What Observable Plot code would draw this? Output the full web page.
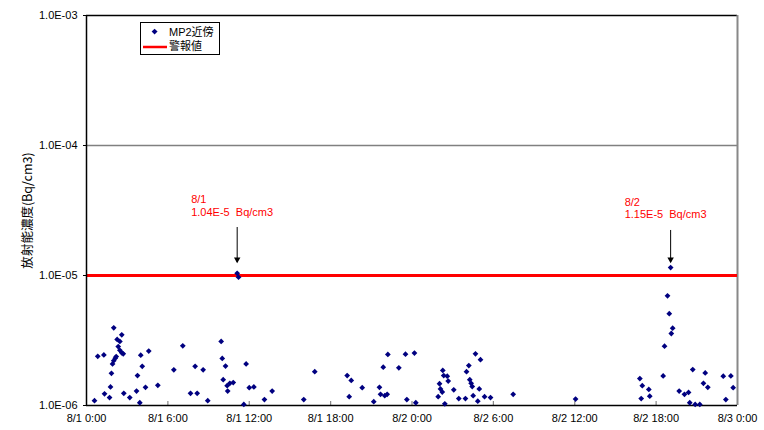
<!DOCTYPE html>
<html>
<head>
<meta charset="utf-8">
<script src="https://cdn.jsdelivr.net/npm/d3@7"></script>
<script src="https://cdn.jsdelivr.net/npm/@observablehq/plot@0.6"></script>
<style>
  html, body { margin: 0; padding: 0; background: #fff; }
  #wrap { position: relative; width: 764px; height: 430px; font-family: "Liberation Sans", "Noto Sans CJK JP", sans-serif; }
  #legend { position: absolute; left: 140px; top: 22px; width: 78px; height: 31px; border: 1px solid #000; background: #fff; font-size: 11px; color: #000; }
  #legend .row { position: absolute; left: 0; height: 14px; line-height: 14px; }
  #legend .t { position: absolute; left: 28px; white-space: nowrap; }
</style>
</head>
<body>
<div id="wrap"></div>
<script>
// Hours since 8/1 0:00 and measured concentration (Bq/cm3) for MP2近傍
const hours = [
  0.59, 0.83, 1.28, 1.33, 1.70, 1.77, 1.84, 1.92, 2.01, 2.01,
  2.12, 2.19, 2.26, 2.34, 2.46, 2.46, 2.60, 2.60, 2.71, 2.75,
  3.19, 3.69, 3.76, 3.93, 4.00, 4.11, 4.35, 4.59, 5.26, 6.44,
  7.10, 7.67, 8.01, 8.16, 8.60, 8.94, 9.93, 10.01, 10.25, 10.08,
  10.37, 10.57, 10.82, 10.41, 11.11, 11.21, 11.60, 11.77, 12.00, 12.34,
  13.12, 13.69, 16.02, 16.83, 19.22, 19.52, 19.37, 20.33, 21.18, 21.60,
  21.68, 21.88, 21.99, 22.17, 22.22, 23.03, 23.52, 23.62, 24.18, 24.28,
  25.93, 26.03, 26.10, 26.23, 26.27, 26.34, 26.60, 26.67, 26.42, 27.08,
  27.45, 27.94, 28.02, 28.19, 28.26, 28.36, 28.44, 28.51, 28.68, 28.85,
  28.96, 29.05, 29.35, 29.79, 31.46, 36.06, 40.80, 40.98, 40.90, 41.46,
  41.53, 42.52, 42.62, 42.84, 42.97, 43.07, 43.12, 43.22, 43.70, 44.09,
  44.39, 44.48, 44.70, 44.88, 45.22, 45.49, 45.62, 45.81, 46.95, 47.14,
  47.51, 47.68
];
const values = [
  1.09e-6, 2.39e-6, 2.45e-6, 1.23e-6, 1.15e-6, 1.39e-6, 1.77e-6, 2.09e-6, 3.96e-6, 2.21e-6,
  2.31e-6, 2.38e-6, 3.22e-6, 2.84e-6, 3.11e-6, 2.66e-6, 3.50e-6, 2.54e-6, 2.50e-6, 1.24e-6,
  1.15e-6, 1.29e-6, 1.70e-6, 1.05e-6, 2.44e-6, 2.00e-6, 1.38e-6, 2.62e-6, 1.43e-6, 1.88e-6,
  2.88e-6, 1.24e-6, 2.00e-6, 1.24e-6, 1.88e-6, 1.09e-6, 3.11e-6, 2.30e-6, 2.01e-6, 1.58e-6,
  1.42e-6, 1.48e-6, 1.50e-6, 1.29e-6, 1.04e-5, 9.70e-6, 1.02e-6, 2.09e-6, 1.37e-6, 1.39e-6,
  1.11e-6, 1.29e-6, 1.11e-6, 1.82e-6, 1.70e-6, 1.56e-6, 1.17e-6, 1.37e-6, 1.07e-6, 1.38e-6,
  1.22e-6, 1.97e-6, 1.19e-6, 1.22e-6, 2.47e-6, 1.95e-6, 2.48e-6, 1.11e-6, 2.53e-6, 1.05e-6,
  1.17e-6, 1.47e-6, 1.34e-6, 1.27e-6, 1.86e-6, 1.70e-6, 1.68e-6, 1.54e-6, 1.03e-6, 1.32e-6,
  1.13e-6, 1.13e-6, 1.82e-6, 2.03e-6, 1.58e-6, 1.48e-6, 1.40e-6, 1.19e-6, 2.50e-6, 1.08e-6,
  1.34e-6, 2.25e-6, 1.17e-6, 1.15e-6, 1.22e-6, 1.12e-6, 1.61e-6, 1.42e-6, 1.13e-6, 1.33e-6,
  1.18e-6, 1.69e-6, 2.86e-6, 6.98e-6, 5.08e-6, 1.15e-5, 3.58e-6, 3.93e-6, 1.29e-6, 1.22e-6,
  1.26e-6, 1.05e-6, 1.89e-6, 1.02e-6, 1.02e-6, 1.48e-6, 1.78e-6, 1.38e-6, 1.68e-6, 1.11e-6,
  1.69e-6, 1.37e-6
];

const alarmLevel = 1e-5;       // 警報値
const gridLevel = 1e-4;

const xTicks = [0, 6, 12, 18, 24, 30, 36, 42, 48];
const xTickLabels = ["8/1 0:00", "8/1 6:00", "8/1 12:00", "8/1 18:00", "8/2 0:00", "8/2 6:00", "8/2 12:00", "8/2 18:00", "8/3 0:00"];
const yTicks = [1e-6, 1e-5, 1e-4, 1e-3];
const yTickLabels = ["1.0E-06", "1.0E-05", "1.0E-04", "1.0E-03"];

const seriesName = "MP2近傍";
const alarmName = "警報値";
const yTitle = "放射能濃度(Bq/cm3)";

const peakHours = [11.11, 43.07];
const peakLabels = ["8/1\n1.04E-5  Bq/cm3", "8/2\n1.15E-5  Bq/cm3"];
const arrowTop = [2.34e-5, 2.22e-5];
const arrowTip = [1.26e-5, 1.26e-5];

const data = hours.map((h, i) => ({h, v: values[i]}));
const ann = peakHours.map((h, i) => ({h, label: peakLabels[i], top: arrowTop[i], tip: arrowTip[i]}));

const chart = Plot.plot({
  width: 764,
  height: 430,
  marginLeft: 86,
  marginRight: 27,
  marginTop: 15,
  marginBottom: 25,
  style: {fontFamily: '"Liberation Sans", "Noto Sans CJK JP", sans-serif', fontSize: "11px", background: "#fff", color: "#000"},
  x: {domain: [0, 48]},
  y: {type: "log", domain: [1e-6, 1e-3]},
  marks: [
    Plot.axisX({ticks: xTicks, tickFormat: d => xTickLabels[xTicks.indexOf(d)], tickSize: 0, tickPadding: 9, label: null}),
    Plot.axisY({ticks: yTicks, tickFormat: d => yTickLabels[yTicks.indexOf(d)], tickSize: 3, tickPadding: 6, label: null}),
    Plot.text([yTitle], {text: d => d, frameAnchor: "left", textAnchor: "middle", rotate: -90, dx: -59, fontSize: 12.5,
      fontFamily: '"Noto Sans CJK JP", sans-serif', fill: "#000"}),
    Plot.ruleX(xTicks.slice(1, -1), {x: d => d, insetTop: 386, stroke: "#888", strokeWidth: 1.2}),
    Plot.ruleY([gridLevel], {y: d => d, stroke: "#808080", strokeWidth: 1.5}),
    Plot.ruleY([1e-3], {y: d => d, stroke: "#000", strokeWidth: 1.5}),
    Plot.ruleX([48], {x: d => d, stroke: "#888", strokeWidth: 2}),
    Plot.ruleY([alarmLevel], {y: d => d, stroke: "#ff0000", strokeWidth: 3}),
    Plot.ruleX([0], {x: d => d, stroke: "#000", strokeWidth: 1.5}),
    Plot.ruleY([1e-6], {y: d => d, stroke: "#000", strokeWidth: 1.5}),
    Plot.dot(data, {x: "h", y: "v", symbol: "square", rotate: 45, r: 2.3, fill: "#000080", stroke: "none"}),
    Plot.ruleX(ann, {x: "h", y1: "top", y2: "tip", stroke: "#000", strokeWidth: 1}),
    Plot.dot(ann, {x: "h", y: "tip", symbol: "triangle", rotate: 180, r: 2.4, fill: "#000", dy: -3}),
    Plot.text(ann, {x: "h", y: "top", text: "label", textAnchor: "start", lineAnchor: "bottom", dx: -46, dy: -12,
      fill: "#ff0000", fontSize: 11, lineHeight: 1.15})
  ]
});

const wrap = document.getElementById("wrap");
wrap.appendChild(chart);

const legend = document.createElement("div");
legend.id = "legend";
legend.innerHTML = `
  <div class="row" style="top:2px;width:78px">
    <svg width="24" height="14" style="position:absolute;left:5px;top:0"><rect x="6.5" y="4.5" width="4.2" height="4.2" fill="#000080" transform="rotate(45 8.6 6.6)"/></svg>
    <span class="t"></span>
  </div>
  <div class="row" style="top:16px;width:78px">
    <svg width="26" height="14" style="position:absolute;left:2px;top:0"><line x1="0" y1="8" x2="24" y2="8" stroke="#ff0000" stroke-width="2.5"/></svg>
    <span class="t"></span>
  </div>`;
const spans = legend.querySelectorAll(".t");
spans[0].textContent = seriesName;
spans[1].textContent = alarmName;
wrap.appendChild(legend);
</script>
</body>
</html>
